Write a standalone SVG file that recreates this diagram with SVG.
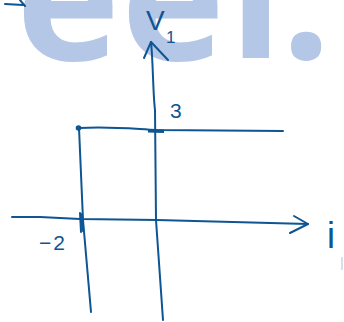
<svg xmlns="http://www.w3.org/2000/svg" width="344" height="322" viewBox="0 0 344 322">
<style>
.wm{font-family:"Open Sans","DejaVu Sans",sans-serif;font-weight:700;font-size:176px;fill:#b4c7e6}
.ink{fill:none;stroke:#0d5593;stroke-width:2;stroke-linecap:round;stroke-linejoin:round}
.lbl{font-family:"Liberation Sans","DejaVu Sans",sans-serif;fill:#0d5593}
</style>
<rect width="344" height="322" fill="#ffffff"/>
<g id="watermark">
<text class="wm" x="16" y="60">e</text>
<text class="wm" x="121" y="60">e</text>
<text class="wm" x="229" y="58">l</text>
<text class="wm" x="281" y="59">.</text>
</g>
<g id="connectors">
<path class="ink" d="M5,4 L23,5 M20,0 L25,6"/>
<path class="ink" d="M12,217 L40,217 L80,219 L157,220 L308,224"/>
<path class="ink" d="M294,216 L308,224 L290,233"/>
<path class="ink" d="M151,42 C153,60 153,95 155,110 L156,220 L163,320"/>
<path class="ink" d="M144,58 L151,42 L168,60"/>
<path class="ink" d="M79,128 L83,220 L91,312"/>
<path class="ink" d="M79,128 C110,126 135,129 157,130 L283,131"/>
<path d="M148,129 L164,129.5 L164,133 L148,132.5 Z" fill="#0d5593"/>
<path class="ink" d="M80,213 L81,232 M82,214 L83,231" stroke-width="2.5"/>
<circle cx="78.5" cy="128" r="2.8" fill="#0d5593"/>
</g>
<g id="labels">
<text class="lbl" x="146" y="30" font-size="28">V<tspan x="166" y="43" font-size="17">1</tspan></text>
<text class="lbl" x="170" y="118" font-size="21">3</text>
<text class="lbl" x="39" y="250" font-size="21" letter-spacing="2">−2</text>
<text class="lbl" x="327" y="248" font-size="36">i</text>
</g>
<path d="M342,257 L342,270" stroke="#c9d5e8" stroke-width="1.5"/>
</svg>
